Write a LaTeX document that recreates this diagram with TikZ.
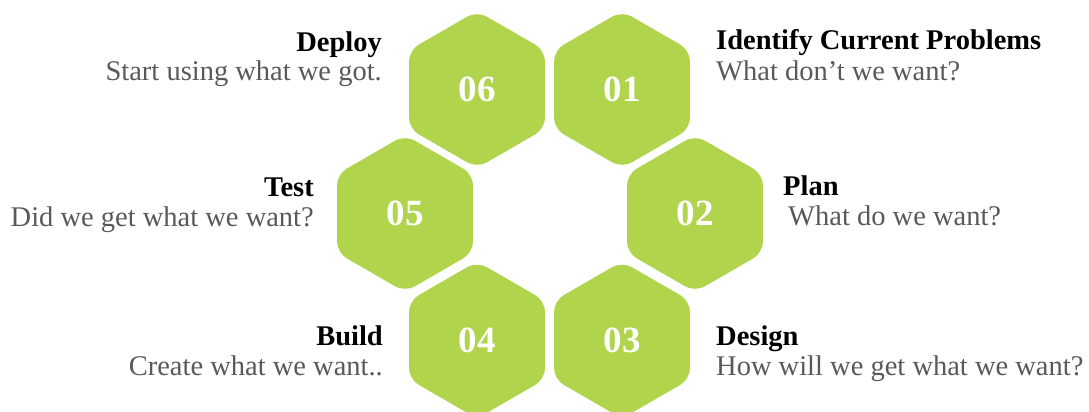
\documentclass[tikz,border=0pt]{standalone}
\usepackage{fontspec}
\setmainfont{Liberation Serif}
\usetikzlibrary{shapes.geometric}
\definecolor{hexgreen}{HTML}{B0D44C}
\definecolor{subgray}{HTML}{595959}
\begin{document}
\begin{tikzpicture}[x=1pt,y=-1pt,
  hexcell/.style={regular polygon, regular polygon sides=6, shape border rotate=30,
    minimum size=157pt, inner sep=0pt, fill=hexgreen, rounded corners=11pt,
    text=white, font=\fontsize{37}{40}\selectfont\bfseries},
  steptitle/.style={inner sep=0pt, font=\fontsize{28.5}{32}\selectfont\bfseries, text=black},
  stepnote/.style={inner sep=0pt, font=\fontsize{28.5}{32}\selectfont, text=subgray}]
\useasboundingbox (0,0) rectangle (1089,412);

% the six stages around the ring
\node[hexcell] (h1) at (622,89.5)  {01};
\node[hexcell] (h2) at (695,213.5) {02};
\node[hexcell] (h3) at (622,340)   {03};
\node[hexcell] (h4) at (477,340)   {04};
\node[hexcell] (h5) at (405,213.5) {05};
\node[hexcell] (h6) at (477,89.5)  {06};

% captions on the right side
\node[steptitle, anchor=base west] (t1) at (716,50) {Identify Current Problems};
\node[stepnote,  anchor=base west] (n1) at (716,81) {What don’t we want?};
\node[steptitle, anchor=base west] (t2) at (783,195) {Plan};
\node[stepnote,  anchor=base west] (n2) at (788,225) {What do we want?};
\node[steptitle, anchor=base west] (t3) at (716,345) {Design};
\node[stepnote,  anchor=base west] (n3) at (716,375) {How will we get what we want?};

% captions on the left side
\node[steptitle, anchor=base east] (t4) at (383,345) {Build};
\node[stepnote,  anchor=base east] (n4) at (383,375) {Create what we want..};
\node[steptitle, anchor=base east] (t5) at (314,196) {Test};
\node[stepnote,  anchor=base east] (n5) at (314,226) {Did we get what we want?};
\node[steptitle, anchor=base east] (t6) at (382,52) {Deploy};
\node[stepnote,  anchor=base east] (n6) at (382,81) {Start using what we got.};
\end{tikzpicture}
\end{document}
